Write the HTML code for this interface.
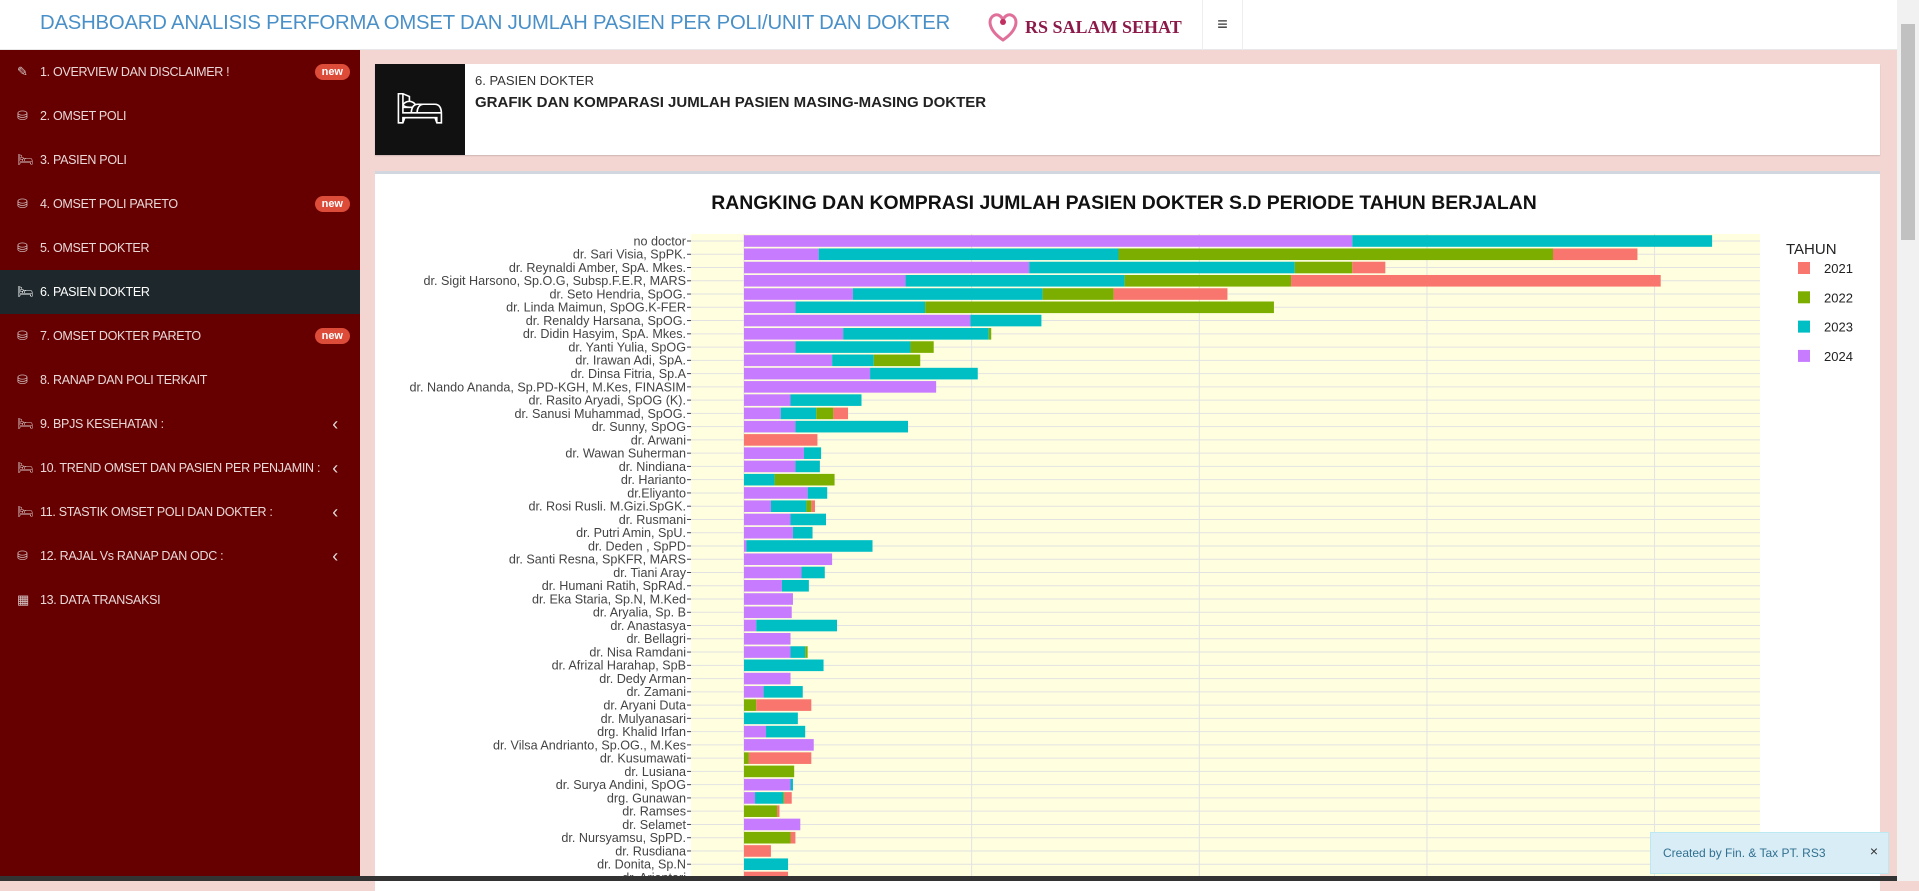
<!DOCTYPE html>
<html><head><meta charset="utf-8">
<style>
*{box-sizing:border-box;margin:0;padding:0}
body{width:1919px;height:881px;overflow:hidden;position:relative;background:#f3d5d2;font-family:"Liberation Sans",sans-serif}
.hdr{position:absolute;left:0;top:0;width:1897px;height:50px;background:#fff;border-bottom:1px solid #e8e8e8}
.side{position:absolute;left:0;top:50px;width:360px;height:831px;background:#660000}
.item{position:absolute;left:0;width:360px;height:44px;color:#e8d8d8;font-size:12.5px;line-height:44px;padding-left:40px;letter-spacing:-0.3px}
.item .ic{position:absolute;left:17px;top:0;font-size:13px;color:#d8c8c8}
.badge{position:absolute;right:10px;top:14px;background:#dd4b39;color:#fff;font-size:11px;font-weight:bold;line-height:16px;padding:0 7px;border-radius:8px;letter-spacing:0}
.chev{position:absolute;right:22px;top:0;font-size:18px;color:#ddd}
</style></head><body>
<div class="hdr">
  <div style="position:absolute;left:40px;top:12px;font-size:20.3px;color:#4a90c8;letter-spacing:-0.2px;white-space:nowrap">DASHBOARD ANALISIS PERFORMA OMSET DAN JUMLAH PASIEN PER POLI/UNIT DAN DOKTER</div>
  <div style="position:absolute;left:983px;top:6px;width:200px;height:40px">
    <svg width="40" height="40" viewBox="0 0 40 40"><path d="M20 34 C5 24 4 12 12 9 C16 8 19 11 20 14 C21 11 24 8 28 9 C36 12 35 24 20 34Z" fill="none" stroke="#e0709a" stroke-width="3"/><circle cx="20" cy="16" r="3" fill="#c03060"/></svg>
    <span style="position:absolute;left:42px;top:11px;font-family:'Liberation Serif',serif;font-weight:bold;font-size:18px;color:#8b1a4a">RS SALAM SEHAT</span>
  </div>
  <div style="position:absolute;left:1202px;top:0;width:41px;height:50px;border-left:1px solid #eee;border-right:1px solid #eee;text-align:center;line-height:48px;font-size:18px;color:#333">≡</div>
</div>
<div class="side">
  <div class="item" style="top:0"><span class="ic">✎</span>1. OVERVIEW DAN DISCLAIMER !<span class="badge">new</span></div>
  <div class="item" style="top:44px"><span class="ic">⛁</span>2. OMSET POLI</div>
  <div class="item" style="top:88px"><span class="ic">🛏</span>3. PASIEN POLI</div>
  <div class="item" style="top:132px"><span class="ic">⛁</span>4. OMSET POLI PARETO<span class="badge">new</span></div>
  <div class="item" style="top:176px"><span class="ic">⛁</span>5. OMSET DOKTER</div>
  <div class="item" style="top:220px;background:#1e282c;color:#fff"><span class="ic" style="color:#fff">🛏</span>6. PASIEN DOKTER</div>
  <div class="item" style="top:264px"><span class="ic">⛁</span>7. OMSET DOKTER PARETO<span class="badge">new</span></div>
  <div class="item" style="top:308px"><span class="ic">⛁</span>8. RANAP DAN POLI TERKAIT</div>
  <div class="item" style="top:352px"><span class="ic">🛏</span>9. BPJS KESEHATAN :<span class="chev">‹</span></div>
  <div class="item" style="top:396px"><span class="ic">🛏</span>10. TREND OMSET DAN PASIEN PER PENJAMIN :<span class="chev">‹</span></div>
  <div class="item" style="top:440px"><span class="ic">🛏</span>11. STASTIK OMSET POLI DAN DOKTER :<span class="chev">‹</span></div>
  <div class="item" style="top:484px"><span class="ic">⛁</span>12. RAJAL Vs RANAP DAN ODC :<span class="chev">‹</span></div>
  <div class="item" style="top:528px"><span class="ic">▦</span>13. DATA TRANSAKSI</div>
</div>
<div style="position:absolute;left:375px;top:64px;width:1505px;height:91px;background:#fff;box-shadow:0 1px 1px rgba(0,0,0,.15)">
  <div style="position:absolute;left:0;top:0;width:90px;height:91px;background:#111;color:#fff;font-size:40px;text-align:center;line-height:91px">🛏</div>
  <div style="position:absolute;left:100px;top:9px;font-size:13px;color:#333">6. PASIEN DOKTER</div>
  <div style="position:absolute;left:100px;top:30px;font-size:15px;font-weight:bold;color:#222">GRAFIK DAN KOMPARASI JUMLAH PASIEN MASING-MASING DOKTER</div>
</div>
<div style="position:absolute;left:375px;top:171px;width:1505px;height:720px;background:#fff;border-top:3px solid #d2d6de"></div>
<svg id="chart" width="1919" height="881" style="position:absolute;left:0;top:0"></svg>
<div style="position:absolute;left:1897px;top:0;width:22px;height:881px;background:#f1f1f1"><div style="position:absolute;left:4px;top:24px;width:14px;height:216px;background:#c1c1c1"></div></div>
<div style="position:absolute;left:1650px;top:832px;width:239px;height:42px;background:#d9edf7;border:1px solid #bce8f1;color:#31708f;font-size:12px;line-height:40px;padding-left:12px">Created by Fin. &amp; Tax PT. RS3<span style="position:absolute;right:10px;top:-2px;font-size:14px;color:#333">×</span></div>
<div style="position:absolute;left:0;top:876px;width:1897px;height:5px;background:#333"></div>
<script>
const doctors=["no doctor","dr. Sari Visia, SpPK.","dr. Reynaldi Amber, SpA. Mkes.","dr. Sigit Harsono, Sp.O.G, Subsp.F.E.R, MARS","dr. Seto Hendria, SpOG.","dr. Linda Maimun, SpOG.K-FER","dr. Renaldy Harsana, SpOG.","dr. Didin Hasyim, SpA. Mkes.","dr. Yanti Yulia, SpOG","dr. Irawan Adi, SpA.","dr. Dinsa Fitria, Sp.A","dr. Nando Ananda, Sp.PD-KGH, M.Kes, FINASIM","dr. Rasito Aryadi, SpOG (K).","dr. Sanusi Muhammad, SpOG.","dr. Sunny, SpOG","dr. Arwani","dr. Wawan Suherman","dr. Nindiana","dr. Harianto","dr.Eliyanto","dr. Rosi Rusli. M.Gizi.SpGK.","dr. Rusmani","dr. Putri Amin, SpU.","dr. Deden , SpPD","dr. Santi Resna, SpKFR, MARS","dr. Tiani Aray","dr. Humani Ratih, SpRAd.","dr. Eka Staria, Sp.N, M.Ked","dr. Aryalia, Sp. B","dr. Anastasya","dr. Bellagri","dr. Nisa Ramdani","dr. Afrizal Harahap, SpB","dr. Dedy Arman","dr. Zamani","dr. Aryani Duta","dr. Mulyanasari","drg. Khalid Irfan","dr. Vilsa Andrianto, Sp.OG., M.Kes","dr. Kusumawati","dr. Lusiana","dr. Surya Andini, SpOG","drg. Gunawan","dr. Ramses","dr. Selamet","dr. Nursyamsu, SpPD.","dr. Rusdiana","dr. Donita, Sp.N","dr. Ariantari"];
const v2024=[497,61,233,132,89,42,185,81,42,72,103,157,38,30,42,0,49,42,0,52,22,38,40,2,72,47,31,40,39,10,38,38,0,38,16,0,0,18,57,0,0,38,9,0,46,0,0,0,0];
const v2023=[294,245,217,179,155,106,58,119,94,34,88,0,58,29,92,0,14,20,25,16,29,29,16,103,0,19,22,0,0,66,0,12,65,0,32,0,44,32,0,0,0,2,23,0,0,0,0,36,0];
const v2022=[0,355,47,136,58,285,0,2,19,38,0,0,0,14,0,0,0,0,49,0,4,0,0,0,0,0,0,0,0,0,0,2,0,0,0,10,0,0,0,4,41,0,1,27,0,38,0,0,0];
const v2021=[0,69,27,302,93,0,0,0,0,0,0,0,0,12,0,60,0,0,0,0,3,0,0,0,0,0,0,0,0,0,0,0,0,0,0,45,0,0,0,51,0,0,6,2,0,4,22,0,36];
const xTicks=[0,186,372,558,744];
const years=["2021","2022","2023","2024"];
const colors={"2021":"#f8766d","2022":"#7cae00","2023":"#00bfc4","2024":"#c77cff"};
const NS="http://www.w3.org/2000/svg";
const svg=document.getElementById('chart');
const PL=691,PR=1760,PT=234,PB=881,X0=744,K=1.2239,Y0=241,STEP=13.26,BH=11.6;
const xs=v=>X0+v*K, ys=i=>Y0+i*STEP;
function mk(t,a){const e=document.createElementNS(NS,t);for(const k in a)e.setAttribute(k,a[k]);svg.appendChild(e);return e;}
let bg=mk('rect',{x:PL,y:PT,width:PR-PL,height:PB-PT,fill:'#ffffe0'});


doctors.forEach((d,i)=>{let g=mk('line',{x1:PL,x2:PR,y1:ys(i),y2:ys(i),stroke:'#e2e2e2','stroke-width':1});

});
xTicks.forEach(t=>{let g=mk('line',{x1:xs(t),x2:xs(t),y1:PT,y2:PB,stroke:'#e2e2e2','stroke-width':1});

});
const series=[["2024",v2024],["2023",v2023],["2022",v2022],["2021",v2021]];
doctors.forEach((d,i)=>{
  let acc=0;
  series.forEach(([yr,arr])=>{const v=arr[i];if(v>0){
    let r=mk('rect',{x:xs(acc),y:ys(i)-BH/2,width:v*K,height:BH,fill:colors[yr]});
    
    
    acc+=v;}});
  let t=mk('text',{x:686,y:ys(i)+4.4,'text-anchor':'end','font-size':12.6,fill:'#444','font-family':'Liberation Sans, sans-serif'});
  t.textContent=d;
  
  
  let tk=mk('line',{x1:687,x2:691,y1:ys(i),y2:ys(i),stroke:'#444'});
  
  
});
let ti=mk('text',{x:1124,y:209,'text-anchor':'middle','font-size':19.4,'font-weight':'bold',fill:'#111','font-family':'Liberation Sans, sans-serif'});
ti.textContent='RANGKING DAN KOMPRASI JUMLAH PASIEN DOKTER S.D PERIODE TAHUN BERJALAN';


let lt=mk('text',{x:1786,y:254,'font-size':15,fill:'#222','font-family':'Liberation Sans, sans-serif'});
lt.textContent='TAHUN';


years.forEach((y,j)=>{const cy=268+j*29.3;
  let s=mk('rect',{x:1798,y:cy-6,width:12,height:12,fill:colors[y]});
  
  
  let t=mk('text',{x:1824,y:cy+5,'font-size':13,fill:'#222','font-family':'Liberation Sans, sans-serif'});
  t.textContent=y;
  
  
});
</script>
</body></html>
